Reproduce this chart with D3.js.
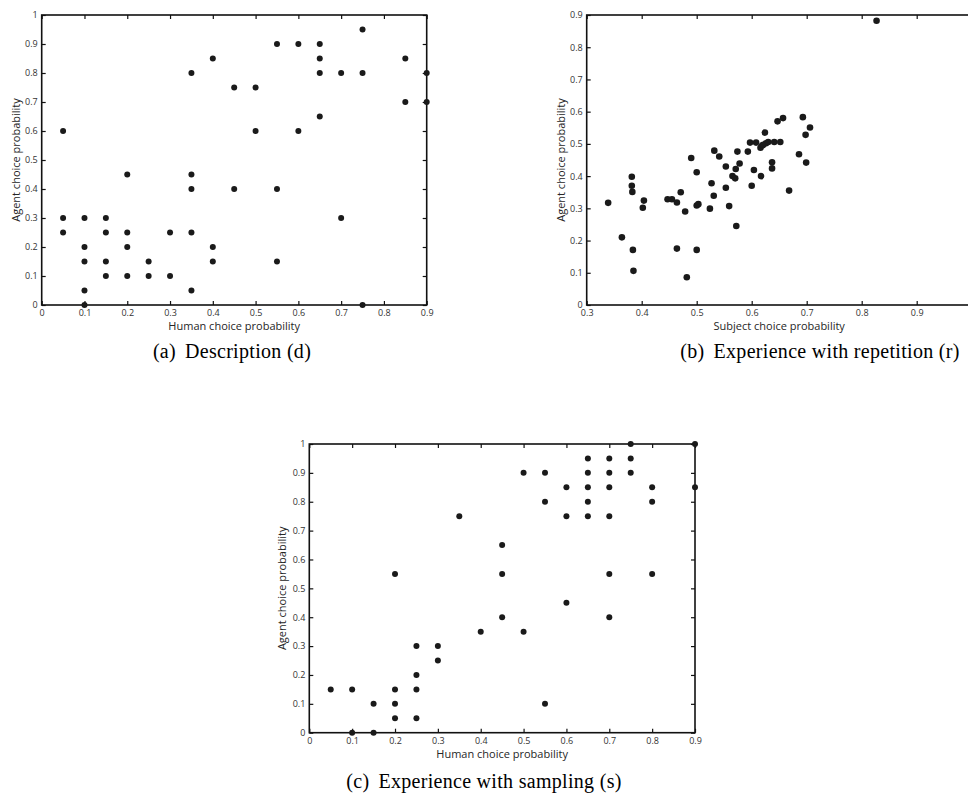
<!DOCTYPE html>
<html>
<head>
<meta charset="utf-8">
<script src="https://cdn.jsdelivr.net/npm/d3@7"></script>
<style>
  html, body { margin: 0; padding: 0; background: #fff; }
  svg { display: block; }
  .tick text { font-family: "Open Sans", sans-serif; font-size: 9px; fill: #333; }
  .axis-label { font-family: "Open Sans", sans-serif; font-size: 11px; fill: #262626; }
  .caption { font-family: "Liberation Serif", serif; font-size: 20px; letter-spacing: 0.3px; fill: #000; }
</style>
</head>
<body>
<svg id="chart" width="968" height="812"></svg>
<script>
// (a) Description: human vs agent choice probability
const descHuman = [0.05,0.05,0.05, 0.1,0.1,0.1,0.1,0.1, 0.15,0.15,0.15,0.15, 0.2,0.2,0.2,0.2,
  0.25,0.25, 0.3,0.3, 0.35,0.35,0.35,0.35,0.35, 0.4,0.4,0.4, 0.45,0.45, 0.5,0.5,
  0.55,0.55,0.55, 0.6,0.6, 0.65,0.65,0.65,0.65, 0.7,0.7, 0.75,0.75,0.75, 0.85,0.85, 0.9,0.9];
const descAgent = [0.6,0.3,0.25, 0.3,0.2,0.15,0.05,0, 0.3,0.25,0.15,0.1, 0.45,0.25,0.2,0.1,
  0.15,0.1, 0.25,0.1, 0.8,0.45,0.4,0.25,0.05, 0.85,0.2,0.15, 0.75,0.4, 0.75,0.6,
  0.9,0.4,0.15, 0.9,0.6, 0.9,0.85,0.8,0.65, 0.8,0.3, 0.95,0.8,0, 0.85,0.7, 0.8,0.7];

// (b) Experience with repetition: subject vs agent choice probability
const repSubject = [0.339,0.364,0.382,0.382,0.383,0.384,0.385,0.402,0.404,0.447,0.455,0.464,0.464,
  0.471,0.479,0.482,0.49,0.5,0.5,0.5,0.503,0.524,0.527,0.531,0.532,0.541,0.553,0.553,0.559,
  0.565,0.57,0.571,0.572,0.574,0.578,0.593,0.597,0.6,0.604,0.608,0.616,0.617,0.619,0.621,
  0.624,0.626,0.63,0.637,0.637,0.641,0.647,0.652,0.657,0.668,0.686,0.693,0.698,0.699,0.706,0.827];
const repAgent = [0.317,0.21,0.398,0.37,0.351,0.171,0.106,0.302,0.324,0.328,0.328,0.318,0.175,
  0.35,0.29,0.086,0.456,0.412,0.171,0.309,0.313,0.299,0.378,0.339,0.479,0.461,0.43,0.364,0.307,
  0.4,0.393,0.422,0.245,0.476,0.439,0.476,0.504,0.37,0.419,0.504,0.488,0.4,0.495,0.497,
  0.535,0.502,0.506,0.443,0.424,0.506,0.57,0.506,0.58,0.355,0.468,0.583,0.528,0.442,0.551,0.882];

// (c) Experience with sampling: human vs agent choice probability
const sampHuman = [0.05, 0.1,0.1, 0.15,0.15, 0.2,0.2,0.2,0.2, 0.25,0.25,0.25,0.25, 0.3,0.3,
  0.35, 0.4, 0.45,0.45,0.45, 0.5,0.5, 0.55,0.55,0.55, 0.6,0.6,0.6,
  0.65,0.65,0.65,0.65,0.65, 0.7,0.7,0.7,0.7,0.7,0.7, 0.75,0.75,0.75, 0.8,0.8,0.8, 0.9,0.9];
const sampAgent = [0.15, 0.15,0, 0.1,0, 0.55,0.15,0.1,0.05, 0.3,0.2,0.15,0.05, 0.3,0.25,
  0.75, 0.35, 0.65,0.55,0.4, 0.9,0.35, 0.9,0.8,0.1, 0.85,0.75,0.45,
  0.95,0.9,0.85,0.8,0.75, 0.95,0.9,0.85,0.75,0.55,0.4, 1,0.95,0.9, 0.85,0.8,0.55, 1,0.85];

const ticks01 = [0,0.1,0.2,0.3,0.4,0.5,0.6,0.7,0.8,0.9];
const ticks01y = [0,0.1,0.2,0.3,0.4,0.5,0.6,0.7,0.8,0.9,1];
const ticksRepX = [0.3,0.4,0.5,0.6,0.7,0.8,0.9];
const ticksRepY = [0,0.1,0.2,0.3,0.4,0.5,0.6,0.7,0.8,0.9];

const captionTags = ["(a)", "(b)", "(c)"];
const captionTexts = ["Description (d)", "Experience with repetition (r)", "Experience with sampling (s)"];

const svg = d3.select("#chart");
const fmt = d => d3.format(".1~f")(d);

function panel(opt) {
  const x = d3.scaleLinear().domain(opt.xDomain).range([opt.left, opt.right]);
  const y = d3.scaleLinear().domain(opt.yDomain).range([opt.bottom, opt.top]);
  const g = svg.append("g");

  // tick marks point inward
  const axes = [];
  axes.push(g.append("g").attr("transform", `translate(0,${opt.bottom})`)
    .call(d3.axisBottom(x).tickValues(opt.xTicks).tickFormat(fmt).tickSize(-4).tickPadding(5)));
  axes.push(g.append("g").attr("transform", `translate(0,${opt.top})`)
    .call(d3.axisTop(x).tickValues(opt.xTicks).tickFormat("").tickSize(-4)));
  axes.push(g.append("g").attr("transform", `translate(${opt.left},0)`)
    .call(d3.axisLeft(y).tickValues(opt.yTicks).tickFormat(fmt).tickSize(-4).tickPadding(4)));
  if (opt.rightAxis) {
    axes.push(g.append("g").attr("transform", `translate(${opt.right},0)`)
      .call(d3.axisRight(y).tickValues(opt.yTicks).tickFormat("").tickSize(-4)));
  }
  axes.forEach(a => {
    a.select(".domain").remove();
    a.selectAll(".tick line").attr("stroke", "#111").attr("stroke-width", 1.2);
  });
  axes[0].selectAll(".tick text").attr("dy", "0.71em");

  g.append("rect")
    .attr("x", opt.left).attr("y", opt.top)
    .attr("width", opt.right - opt.left).attr("height", opt.bottom - opt.top)
    .attr("fill", "none").attr("stroke", "#111").attr("stroke-width", 1.6);

  g.append("g").selectAll("circle")
    .data(d3.zip(opt.xs, opt.ys))
    .join("circle")
    .attr("cx", d => x(d[0])).attr("cy", d => y(d[1]))
    .attr("r", opt.r).attr("fill", "#1a1a1a");

  g.append("text").attr("class", "axis-label")
    .attr("x", (opt.left + opt.right) / 2)
    .attr("y", opt.bottom + 25).attr("text-anchor", "middle").text(opt.xLabel);
  g.append("text").attr("class", "axis-label")
    .attr("transform", `translate(${opt.yLabelX},${(opt.top + opt.bottom) / 2}) rotate(-90)`)
    .attr("text-anchor", "middle").text(opt.yLabel);

  // caption: tag, a wider gap, then the title
  const cap = g.append("text").attr("class", "caption")
    .attr("x", opt.capX).attr("y", opt.capY).attr("text-anchor", "middle");
  cap.append("tspan").text(opt.capTag);
  cap.append("tspan").attr("dx", 9).text(opt.capText);
}

panel({
  left: 41.7, right: 426.7, top: 15, bottom: 305, rightAxis: true,
  xDomain: [0, 0.9], yDomain: [0, 1], xTicks: ticks01, yTicks: ticks01y,
  xs: descHuman, ys: descAgent, r: 3,
  xLabel: "Human choice probability", yLabel: "Agent choice probability", yLabelX: 20,
  capTag: captionTags[0], capText: captionTexts[0], capX: 232, capY: 358
});

panel({
  left: 586.7, right: 971.7, top: 15, bottom: 305, rightAxis: false,
  xDomain: [0.3, 1.0], yDomain: [0, 0.9], xTicks: ticksRepX, yTicks: ticksRepY,
  xs: repSubject, ys: repAgent, r: 3.3,
  xLabel: "Subject choice probability", yLabel: "Agent choice probability", yLabelX: 565,
  capTag: captionTags[1], capText: captionTexts[1], capX: 820, capY: 358
});

panel({
  left: 309.3, right: 695, top: 444, bottom: 732.7, rightAxis: true,
  xDomain: [0, 0.9], yDomain: [0, 1], xTicks: ticks01, yTicks: ticks01y,
  xs: sampHuman, ys: sampAgent, r: 3,
  xLabel: "Human choice probability", yLabel: "Agent choice probability", yLabelX: 286,
  capTag: captionTags[2], capText: captionTexts[2], capX: 484, capY: 788
});
</script>
</body>
</html>
